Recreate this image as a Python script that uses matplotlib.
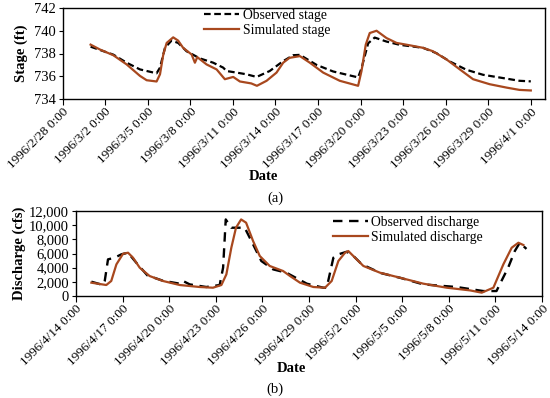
import matplotlib.pyplot as plt
import matplotlib.dates as mdates
import datetime as dt

plt.rcParams['font.family'] = ['Liberation Serif', 'DejaVu Serif']

# (a) stage, days after 1996-02-28
obs_stage_day = [1.98, 3.58, 4.52, 5.46, 6.63, 6.87, 7.22, 7.68, 8.15, 8.74, 9.68, 10.62,
                 11.32, 11.56, 12.27, 12.97, 13.68, 14.6, 15.55, 16.26, 16.73, 17.9, 19.07,
                 20.83, 21.07, 21.54, 22.0, 22.83, 23.77, 25.4, 26.35, 27.29, 28.46, 29.63,
                 31.04, 32.2, 33.0]
obs_stage = [738.6, 737.9, 737.19, 736.6, 736.26, 736.76, 738.5, 739.13, 738.93, 738.2,
             737.57, 737.19, 736.76, 736.46, 736.32, 736.17, 735.94, 736.46, 737.33, 737.85,
             737.88, 737.0, 736.42, 735.9, 736.7, 738.9, 739.4, 739.05, 738.76, 738.5,
             738.03, 737.3, 736.57, 736.13, 735.84, 735.6, 735.55]
sim_stage_day = [1.98, 2.64, 3.58, 4.52, 5.46, 5.93, 6.63, 6.87, 7.1, 7.34, 7.8, 8.15, 8.5,
                 9.1, 9.33, 9.5, 10.15, 10.86, 11.44, 12.03, 12.5, 13.3, 13.7, 14.38, 15.08,
                 15.55, 16.0, 16.73, 17.43, 18.37, 19.54, 20.83, 21.07, 21.37, 21.65, 22.13,
                 22.83, 23.54, 24.47, 25.4, 26.1, 27.06, 28.0, 28.93, 30.1, 31.3, 32.2, 33.0]
sim_stage = [738.78, 738.35, 737.85, 737.04, 736.03, 735.65, 735.54, 736.17, 737.9, 738.93,
             739.42, 739.13, 738.5, 737.91, 737.19, 737.68, 737.04, 736.6, 735.74, 735.94,
             735.54, 735.37, 735.16, 735.6, 736.32, 737.19, 737.62, 737.77, 737.19, 736.32,
             735.6, 735.16, 736.46, 738.78, 739.8, 740.0, 739.36, 738.93, 738.72, 738.5,
             738.2, 737.48, 736.6, 735.74, 735.3, 735.0, 734.8, 734.75]

# (b) discharge, days after 1996-04-14
obs_q_day = [0.99, 1.74, 1.85, 2.06, 2.49, 2.92, 3.35, 3.88, 4.6, 5.6, 6.68, 6.89, 7.32,
             8.39, 9.25, 9.47, 9.64, 10.0, 10.86, 11.4, 11.93, 12.69, 13.54, 14.86, 15.92,
             16.14, 16.57, 16.89, 17.43, 17.86, 18.4, 19.6, 20.9, 22.36, 24.5, 26.22, 27.07,
             27.39, 27.82, 28.25, 28.57, 29.0]
obs_q = [2020, 1550, 2120, 5170, 5410, 5880, 6110, 4700, 2900, 2150, 1740, 2120, 1640,
         1270, 1550, 4000, 10810, 9640, 9640, 7290, 4940, 3760, 3290, 1740, 1170, 1170,
         5410, 5880, 6250, 5650, 4470, 3250, 2550, 1640, 1270, 700, 700, 2120, 4000, 6350,
         7520, 6650]
sim_q_day = [0.99, 1.95, 2.27, 2.6, 3.03, 3.35, 3.67, 4.1, 4.74, 5.6, 6.68, 7.96, 8.82, 9.36,
             9.68, 10.0, 10.3, 10.63, 10.95, 11.4, 11.83, 12.47, 13.33, 13.78, 14.42, 15.28,
             16.03, 16.46, 16.89, 17.32, 17.53, 17.96, 18.5, 19.57, 20.86, 22.36, 23.87,
             25.37, 26.12, 26.87, 27.51, 28.05, 28.48, 28.8]
sim_q = [1880, 1550, 2120, 4460, 5970, 6110, 5410, 4000, 2820, 2120, 1550, 1270, 1170,
         1550, 3050, 6820, 9640, 10810, 10350, 7760, 5650, 4240, 3530, 2820, 1880, 1270,
         1170, 2120, 4940, 6110, 6350, 5410, 4240, 3290, 2580, 1740, 1170, 790, 470, 1170,
         4460, 6820, 7520, 7200]

t0a = dt.datetime(1996, 2, 28)
t0b = dt.datetime(1996, 4, 14)
to_dates = lambda t0, days: [t0 + dt.timedelta(days=d) for d in days]

sim_color = '#A8481E'
W, H = 550, 398

fig = plt.figure(figsize=(5.5, 3.98), dpi=100)
ax1 = fig.add_axes([62.5 / W, 1 - 99 / H, (545 - 62.5) / W, (99 - 8) / H])
ax2 = fig.add_axes([76 / W, 1 - 296 / H, (542 - 76) / W, (296 - 211) / H])

ax1.plot(to_dates(t0a, obs_stage_day), obs_stage, color='black', ls=(0, (3, 1.6)),
         lw=1.6, label='Observed stage')
ax1.plot(to_dates(t0a, sim_stage_day), sim_stage, color=sim_color, lw=1.6,
         label='Simulated stage')
ax1.set_ylim(734, 742)
ax1.set_yticks([734, 736, 738, 740, 742])
ax1.set_xlim(t0a, t0a + dt.timedelta(days=34))
ax1.set_xticks(to_dates(t0a, range(0, 34, 3)))
ax1.set_ylabel('Stage (ft)', fontweight='bold', fontsize=10.5, labelpad=4)
ax1.legend(loc='upper left', bbox_to_anchor=(204 / W, 1 - 9 / H),
           bbox_transform=fig.transFigure, frameon=False, fontsize=9.8,
           handlelength=2.6, handletextpad=0.25, labelspacing=0.15, borderpad=0,
           borderaxespad=0)

ax2.plot(to_dates(t0b, obs_q_day), obs_q, color='black', ls=(0, (4, 2.8)), lw=1.7,
         label='Observed discharge')
ax2.plot(to_dates(t0b, sim_q_day), sim_q, color=sim_color, lw=1.6,
         label='Simulated discharge')
ax2.set_ylim(0, 12000)
ax2.set_yticks(range(0, 12001, 2000))
ax2.yaxis.set_major_formatter(plt.FuncFormatter(lambda v, p: f'{int(v):,}'))
ax2.set_xlim(t0b, t0b + dt.timedelta(days=30))
ax2.set_xticks(to_dates(t0b, range(0, 31, 3)))
ax2.set_ylabel('Discharge (cfs)', fontweight='bold', fontsize=10.5, labelpad=2)
ax2.legend(loc='upper left', bbox_to_anchor=(333 / W, 1 - 216 / H),
           bbox_transform=fig.transFigure, frameon=False, fontsize=9.8,
           handlelength=2.6, handletextpad=0.2, labelspacing=0.15, borderpad=0,
           borderaxespad=0)

fmt = lambda x, p: f"{mdates.num2date(x).year}/{mdates.num2date(x).month}/{mdates.num2date(x).day} 0:00"
for ax in (ax1, ax2):
    ax.xaxis.set_major_formatter(plt.FuncFormatter(fmt))
    ax.tick_params(axis='x', labelsize=9.5, rotation=45, direction='out', length=4, pad=1)
    ax.tick_params(axis='y', labelsize=10.5, direction='out', length=3, pad=2)
    for lab in ax.get_xticklabels():
        lab.set_ha('right')
        lab.set_rotation_mode('anchor')
    for s in ax.spines.values():
        s.set_linewidth(1.0)

fig.text(263 / W, 1 - 177 / H, 'Date', ha='center', va='center', fontsize=10.5,
         fontweight='bold')
fig.text(275 / W, 1 - 198 / H, '(a)', ha='center', va='center', fontsize=10.5)
fig.text(291 / W, 1 - 369 / H, 'Date', ha='center', va='center', fontsize=10.5,
         fontweight='bold')
fig.text(275 / W, 1 - 389 / H, '(b)', ha='center', va='center', fontsize=10.5)

fig.savefig('out.png', dpi=100)
